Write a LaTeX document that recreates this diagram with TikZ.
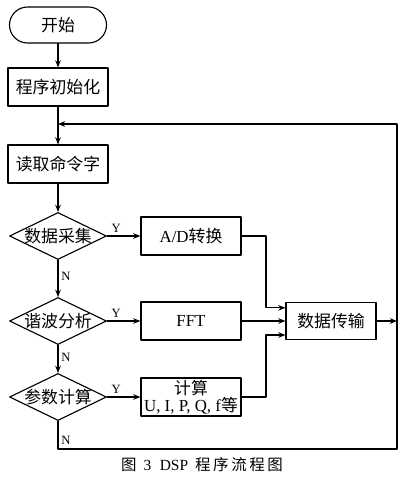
\documentclass[tikz,border=0pt]{standalone}
\usepackage{fontspec}
\setmainfont{Liberation Serif}
\newfontfamily\zh{Noto Sans CJK SC}
\usetikzlibrary{arrows.meta,shapes.geometric}

\begin{document}
\begin{tikzpicture}[
  x=0.025cm,
  y=-0.025cm,
  font=\fontsize{12}{13}\selectfont,
  line cap=round,
  line join=round,
  arr/.style={
    -{Stealth[length=1.8mm,width=1.4mm]},
    line width=0.8pt
  },
  terminal/.style={
    rectangle,
    rounded corners=0.45cm,
    draw,
    line width=0.8pt,
    minimum width=2.425cm,
    minimum height=0.9cm
  },
  proc/.style={
    rectangle,
    draw,
    line width=0.8pt,
    minimum width=2.5cm,
    minimum height=0.95cm,
    inner sep=1pt,
    align=center
  },
  decision/.style={
    diamond,
    aspect=2,
    draw,
    line width=0.8pt,
    minimum width=2.425cm,
    minimum height=1.175cm,
    inner sep=-2pt
  },
  yn/.style={
    font=\fontsize{9}{10}\selectfont,
    inner sep=2pt
  }
]
\useasboundingbox (0,0) rectangle (404,480);

% main column
\node[terminal] (start) at (58,25) {\zh 开始};
\node[proc] (init) at (58,87) {\zh 程序初始化};
\node[proc] (readcmd) at (58,164) {\zh 读取命令字};
\node[decision] (collect) at (58,236) {\zh 数据采集};
\node[decision] (harmonic) at (58,321) {\zh 谐波分析};
\node[decision] (params) at (58,397) {\zh 参数计算};

% branch boxes
\node[proc] (adconv) at (191,236) {A/D{\zh 转换}};
\node[proc] (fft) at (191,321) {FFT};
\node[proc] (compute) at (191,397) {{\zh 计算}\\[-1pt]U, I, P, Q, f{\zh 等}};
\node[proc,minimum width=2.25cm,minimum height=0.925cm]
  (transfer) at (331,321) {\zh 数据传输};

% loop path
\coordinate (loopend) at (58,124);
\coordinate (loopcorner) at (397,449);
\coordinate (merge) at (266,321);

\draw[arr] (start) -- (init);
\draw[arr] (init) -- (readcmd);
\draw[arr] (readcmd) -- (collect);

\draw[arr] (collect.south)
  -- node[yn,right,pos=0.45] {N} (harmonic.north);
\draw[arr] (harmonic.south)
  -- node[yn,right,pos=0.45] {N} (params.north);

\draw[arr] (collect.east)
  -- node[yn,above,pos=0.27] {Y} (adconv.west);
\draw[arr] (harmonic.east)
  -- node[yn,above,pos=0.27] {Y} (fft.west);
\draw[arr] (params.east)
  -- node[yn,above,pos=0.27] {Y} (compute.west);

% into data transfer
\draw[arr] (adconv.east)
  -- (adconv.east -| merge)
  |- ([yshift=0.33cm]transfer.west);
\draw[arr] (fft.east) -- (transfer.west);
\draw[arr] (compute.east)
  -- (compute.east -| merge)
  |- ([yshift=-0.35cm]transfer.west);

% back to reading the next command
\draw[arr] (transfer.east) -- (transfer.east -| loopcorner);
\draw[arr] (params.south)
  |- node[yn,right,pos=0.35] {N} (loopcorner)
  |- (loopend);

% caption
\node[font=\fontsize{11}{12}\selectfont] (caption) at (202,465)
  {{\zh 图}\hspace{5pt}3\hspace{6pt}DSP\hspace{5pt}{\zh 程\,序\,流\,程\,图}};
\end{tikzpicture}
\end{document}
